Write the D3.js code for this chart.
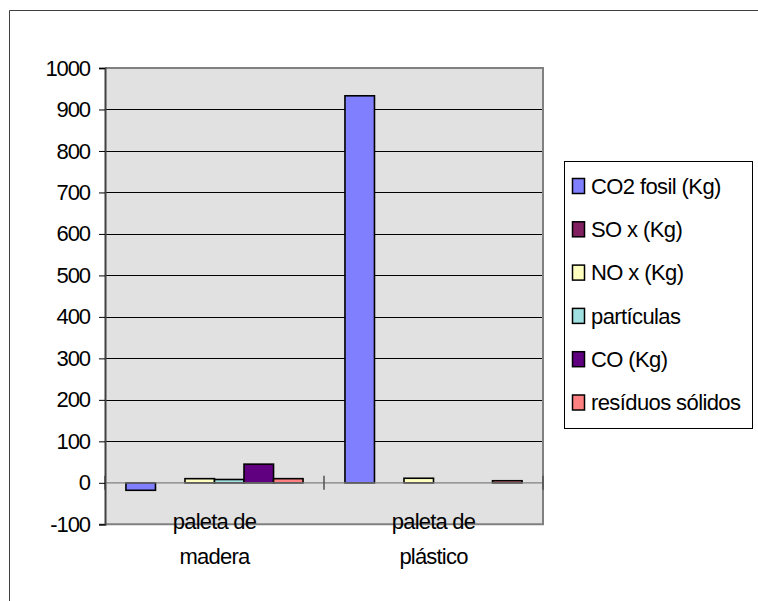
<!DOCTYPE html>
<html>
<head>
<meta charset="utf-8">
<script src="https://cdn.jsdelivr.net/npm/d3@7"></script>
<style>
  html, body { margin: 0; padding: 0; background: #fff; }
  svg { display: block; font-family: "Liberation Sans", Arial, sans-serif; }
</style>
</head>
<body>
<svg id="chart" width="758" height="601"></svg>
<script>
const categories = [["paleta de", "madera"], ["paleta de", "plástico"]];
const seriesNames = ["CO2 fosil (Kg)", "SO x (Kg)", "NO x (Kg)", "partículas", "CO (Kg)", "resíduos sólidos"];
const seriesColors = ["#8080ff", "#802060", "#ffffc0", "#a0e0e0", "#600080", "#ff8080"];
const co2 = [-18, 933];
const sox = [0, 0];
const nox = [10, 11];
const particulas = [8, 0];
const co = [45, 0];
const residuos = [10, 5];
const yTicks = [-100, 0, 100, 200, 300, 400, 500, 600, 700, 800, 900, 1000];

(function () {
const seriesValues = [co2, sox, nox, particulas, co, residuos];
const catKeys = categories.map(c => c.join(" "));

const svg = d3.select("#chart");
const pL = 105, pR = 543, pT = 68, pB = 524.3;

// outer chart border
svg.append("path").attr("d", "M9.5,601 V10.5 H758").attr("fill", "none").attr("stroke", "#404040").attr("stroke-width", 1);

const x0 = d3.scaleBand().domain(catKeys).range([pL, pR]).paddingInner(0).paddingOuter(0);
const x1 = d3.scaleBand().domain(seriesNames).range([0, x0.bandwidth()]).paddingInner(0).paddingOuter(0.71);
const y = d3.scaleLinear().domain([-100, 1000]).range([pB, pT]);

// plot area background
svg.append("rect").attr("x", pL).attr("y", pT).attr("width", pR - pL).attr("height", pB - pT).attr("fill", "#e1e1e1");

// gridlines
svg.append("g").selectAll("line").data(yTicks.filter(t => t !== 0 && t !== -100 && t !== 1000)).join("line")
  .attr("x1", pL).attr("x2", pR)
  .attr("y1", d => Math.round(y(d)) + 0.5).attr("y2", d => Math.round(y(d)) + 0.5)
  .attr("stroke", "#000").attr("stroke-width", 1);

// plot border (top, right, bottom)
svg.append("path").attr("d", `M${pL},${pT} H${pR} V${pB} H${pL}`)
  .attr("fill", "none").attr("stroke", "#808080").attr("stroke-width", 2);

// bars
const data = [];
catKeys.forEach((c, ci) => {
  seriesNames.forEach((s, si) => {
    data.push({cat: c, s, v: seriesValues[si][ci], color: seriesColors[si]});
  });
});
svg.append("g").selectAll("rect").data(data.filter(d => d.v !== 0)).join("rect")
  .attr("x", d => x0(d.cat) + x1(d.s))
  .attr("width", x1.bandwidth())
  .attr("y", d => y(Math.max(0, d.v)))
  .attr("height", d => Math.abs(y(d.v) - y(0)))
  .attr("fill", d => d.color)
  .attr("stroke", "#000").attr("stroke-width", 1.6);

// x axis at zero
const y0 = y(0);
svg.append("line").attr("x1", pL).attr("x2", pR).attr("y1", y0).attr("y2", y0)
  .attr("stroke", "#808080").attr("stroke-width", 1.2);
const bounds = [pL, ...catKeys.map(c => x0(c) + x0.bandwidth())];
svg.append("g").selectAll("line").data(bounds).join("line")
  .attr("x1", d => d).attr("x2", d => d)
  .attr("y1", y0 - 7).attr("y2", y0 + 7)
  .attr("stroke", "#505050").attr("stroke-width", 1.5);

// y axis
const yAxis = d3.axisLeft(y).tickValues(yTicks).tickSize(6).tickPadding(9).tickFormat(d => String(d));
const yg = svg.append("g").attr("transform", `translate(${pL},0)`).call(yAxis);
yg.select(".domain").attr("stroke", "#404040").attr("stroke-width", 2);
yg.selectAll(".tick line").attr("stroke", "#000");
yg.selectAll(".tick text").attr("font-size", 22).attr("fill", "#000")
  .attr("font-family", "Liberation Sans, Arial, sans-serif").attr("letter-spacing", -1.1);

// category labels
const xl = svg.append("g").selectAll("text").data(categories).join("text")
  .attr("x", (d, i) => x0(catKeys[i]) + x0.bandwidth() / 2)
  .attr("y", 529)
  .attr("text-anchor", "middle").attr("font-size", 22).attr("letter-spacing", -0.8);
xl.selectAll("tspan").data(d => d).join("tspan")
  .attr("x", function() { return d3.select(this.parentNode).attr("x"); })
  .attr("dy", (d, i) => i === 0 ? 0 : 35)
  .text(d => d);

// legend
const lg = svg.append("g");
lg.append("rect").attr("x", 564.5).attr("y", 161.5).attr("width", 188).attr("height", 267)
  .attr("fill", "#fff").attr("stroke", "#000").attr("stroke-width", 1);
const items = lg.selectAll("g").data(seriesNames).join("g")
  .attr("transform", (d, i) => `translate(0, ${186 + i * 43.3})`);
items.append("rect").attr("x", 572.5).attr("y", -7.5).attr("width", 12).attr("height", 15)
  .attr("fill", (d, i) => seriesColors[i]).attr("stroke", "#000").attr("stroke-width", 1.5);
items.append("text").attr("x", 591).attr("y", 0).attr("dy", "0.35em")
  .attr("font-size", 22).attr("letter-spacing", -0.6).text(d => d);
})();
</script>
</body>
</html>
